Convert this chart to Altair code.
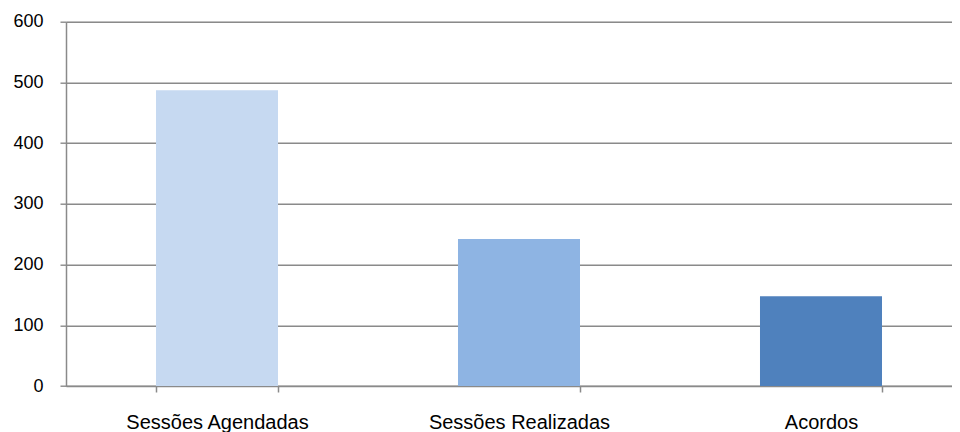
import altair as alt
import pandas as pd

categories = ["Sessões Agendadas", "Sessões Realizadas", "Acordos"]
values = [487, 242, 148]
colors = ["#C6D9F1", "#8EB4E3", "#4F81BD"]
y_ticks = [0, 100, 200, 300, 400, 500, 600]

df = pd.DataFrame({"categoria": categories, "valor": values})

grey = "#8a8a8a"

chart = alt.Chart(df).mark_bar().encode(
    x=alt.X(
        "categoria:N",
        sort=categories,
        scale=alt.Scale(range=[0, 906], paddingInner=0.596, paddingOuter=0.298),
        axis=alt.Axis(
            title=None, labelAngle=0, tickBand="extent", grid=False,
            domainColor=grey, domainWidth=1.5, tickColor=grey, tickWidth=1.5, tickSize=6,
            labelFont="Liberation Sans", labelFontSize=20, labelColor="#000000",
            labelBaseline="alphabetic", labelPadding=36, labelOverlap=False, labelLimit=0,
        ),
    ),
    y=alt.Y(
        "valor:Q",
        scale=alt.Scale(domain=[0, 600], nice=False),
        axis=alt.Axis(
            title=None, values=y_ticks, grid=True, gridColor=grey, gridWidth=1.4,
            domainColor=grey, domainWidth=1.5, tickColor=grey, tickWidth=1.4, tickSize=6,
            labelFont="Liberation Sans", labelFontSize=18, labelColor="#000000",
            labelPadding=17, labelBaseline="middle",
        ),
    ),
    color=alt.Color("categoria:N", scale=alt.Scale(domain=categories, range=colors), legend=None),
).properties(
    width=886,
    height=364.3,
    padding={"left": 58, "top": 13.7, "right": 0, "bottom": 46},
    autosize=alt.AutoSizeParams(type="none"),
).configure_view(stroke=None).configure(background="#ffffff")

chart.save("out.html", embed_options={"renderer": "svg", "actions": False})
